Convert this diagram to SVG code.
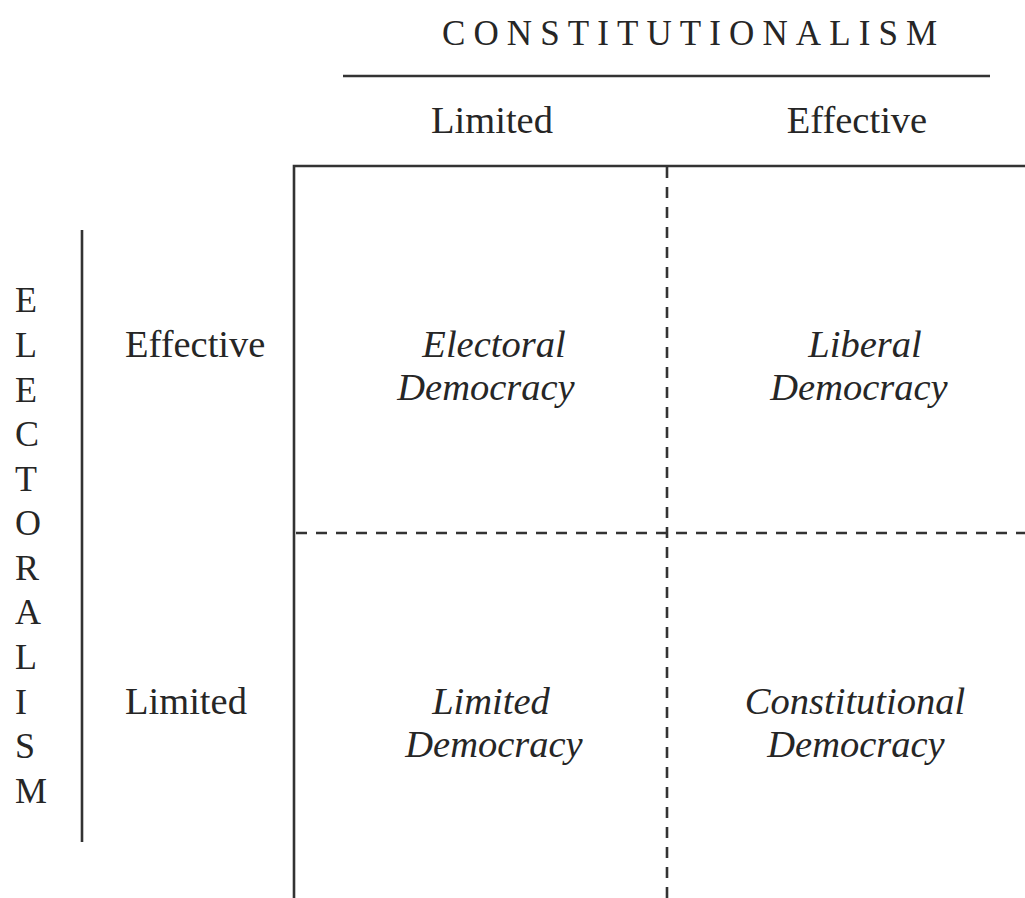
<svg xmlns="http://www.w3.org/2000/svg" width="1025" height="898" viewBox="0 0 1025 898">
<style>
.t{font-family:"Liberation Serif","Times New Roman",serif;font-size:38.5px;fill:#262626}
.i{font-style:italic;text-anchor:middle}
.s{stroke:#333;stroke-width:2.6;fill:none}
.d{stroke:#333;stroke-width:2.6;fill:none;stroke-dasharray:11 9}
</style>
<rect width="1025" height="898" fill="#fff"/>
<g id="axes">
<g id="constitutionalism-header">
<text class="t" x="442" y="45" style="letter-spacing:8.1px;font-size:35px">CONSTITUTIONALISM</text>
<line class="s" x1="343" y1="76" x2="990" y2="76"/>
<text class="t" x="492" y="133" text-anchor="middle">Limited</text>
<text class="t" x="857" y="133" text-anchor="middle">Effective</text>
</g>
<g id="electoralism-header">
<text class="t" x="15" style="font-size:36px">
<tspan x="15" y="312">E</tspan><tspan x="15" y="357">L</tspan><tspan x="15" y="402">E</tspan><tspan x="15" y="446">C</tspan><tspan x="15" y="491">T</tspan><tspan x="15" y="535">O</tspan><tspan x="15" y="580">R</tspan><tspan x="15" y="624">A</tspan><tspan x="15" y="669">L</tspan><tspan x="15" y="714">I</tspan><tspan x="15" y="758">S</tspan><tspan x="15" y="803">M</tspan>
</text>
<line class="s" x1="82" y1="230" x2="82" y2="842"/>
<text class="t" x="125" y="357">Effective</text>
<text class="t" x="125" y="714">Limited</text>
</g>
</g>
<g id="connectors">
<polyline class="s" points="294,898 294,166 1025,166"/>
<line class="d" x1="667" y1="167" x2="667" y2="898"/>
<line class="d" x1="296" y1="533" x2="1025" y2="533"/>
</g>
<g id="cell-electoral">
<text class="t i" x="494" y="357">Electoral</text>
<text class="t i" x="486" y="400">Democracy</text>
</g>
<g id="cell-liberal">
<text class="t i" x="865" y="357">Liberal</text>
<text class="t i" x="859" y="400">Democracy</text>
</g>
<g id="cell-limited">
<text class="t i" x="491" y="714">Limited</text>
<text class="t i" x="494" y="757">Democracy</text>
</g>
<g id="cell-constitutional">
<text class="t i" x="855" y="714">Constitutional</text>
<text class="t i" x="856" y="757">Democracy</text>
</g>
</svg>
